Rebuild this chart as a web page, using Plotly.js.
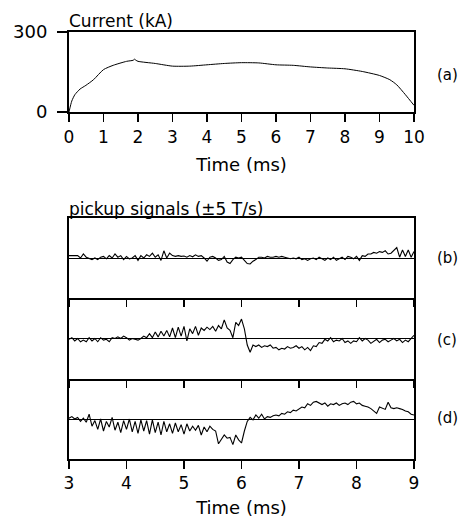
<!DOCTYPE html>
<html>
<head>
<meta charset="utf-8">
<script src="https://cdn.plot.ly/plotly-3.0.1.min.js"></script>
<style>html,body{margin:0;padding:0;background:#fff;}#chart{width:458px;height:518px;}</style>
</head>
<body>
<div id="chart"></div>
<script>
// ---- Data ----
const currentTime = [0, 0.08, 0.17, 0.32, 0.49, 0.71, 1.0, 1.28, 1.67, 1.86, 1.9, 1.94, 2.0, 2.5, 3.0, 3.5, 4.0, 4.5, 5.0, 5.5, 6.0, 6.5, 7.0, 7.5, 8.0, 8.5, 9.0, 9.3, 9.5, 9.75, 10.0];
const currentKA   = [0, 41, 65, 86, 100, 121, 159, 175, 190, 194, 198, 194, 190, 182, 172, 172, 177, 182, 185, 184, 177, 175, 169, 165, 162, 152, 137, 121, 102, 65, 25];

// pickup signals, sampled every 0.05 ms from 3.00 ms to 9.00 ms (T/s)
const signalStart = 3.0;
const signalStep = 0.05;
const pickupB = [
 0.3,0.3,0.25,0.3,0.0,0.5,0.1,-0.1,-0.2,0.0,
 -0.2,0.1,0.2,-0.1,0.3,0.0,0.5,0.1,0.3,-0.2,
 0.2,-0.1,0.0,0.3,-0.3,0.3,0.0,0.4,0.2,0.6,
 0.1,0.4,-0.3,0.9,0.0,0.6,0.3,0.2,0.3,0.2,
 0.25,0.1,0.3,0.15,0.4,0.2,0.3,0.0,-0.4,0.1,
 0.2,0.0,-0.3,-0.2,0.2,-0.5,-0.7,-0.2,0.1,0.0,
 0.1,-0.3,-0.7,-0.75,-0.4,-0.2,0.1,0.1,0.0,0.2,
 0.1,0.1,0.2,0.1,0.2,0.1,0.0,-0.1,0.0,-0.1,
 0.1,-0.2,-0.1,-0.3,-0.1,0.0,-0.2,0.1,-0.1,-0.3,
 0.0,-0.2,0.1,-0.3,-0.1,0.1,-0.2,0.2,0.1,-0.1,
 0.2,-0.3,0.3,0.2,0.5,0.5,0.7,0.6,0.8,0.7,
 0.9,0.5,0.6,1.0,1.3,0.1,1.0,0.2,1.0,0.1,
 0.8
];
const pickupC = [
 -0.1,0.1,-0.3,0.0,-0.4,-0.2,-0.4,0.1,-0.3,0.0,
 -0.4,0.1,-0.2,-0.1,-0.4,0.1,0.0,0.2,0.0,0.3,
 0.1,-0.2,0.0,-0.1,-0.2,0.0,0.3,0.1,0.6,0.1,
 0.8,0.2,0.9,0.3,1.0,0.2,1.3,0.1,1.4,0.3,
 1.5,-0.3,1.2,0.6,1.5,0.4,1.3,1.0,1.4,1.1,
 1.5,0.9,1.6,1.2,2.3,1.3,1.0,0.1,2.0,1.6,
 2.4,1.2,-0.8,-1.7,-0.8,-1.0,-0.8,-1.1,-0.9,-1.0,
 -0.8,-1.2,-1.1,-1.4,-1.2,-1.3,-1.0,-1.2,-1.1,-0.9,
 -1.2,-1.0,-1.4,-1.1,-1.5,-0.9,-1.0,-0.5,-0.6,-0.1,
 -0.3,0.1,-0.4,-0.2,-0.3,0.0,-0.5,-0.3,-0.6,-0.3,
 -0.4,0.1,-0.3,0.0,-0.2,-0.6,-0.3,-0.1,-0.5,-0.2,
 -0.1,-0.4,-0.2,0.0,-0.3,-0.1,-0.5,-0.2,-0.4,0.0,
 0.4
];
const pickupD = [
 0.1,0.3,0.0,0.2,-0.3,0.1,-0.4,0.6,-0.9,-0.2,
 -1.3,0.0,-1.5,-0.3,-1.0,0.2,-1.4,-0.4,-1.7,-0.2,
 -1.3,0.0,-1.6,-0.3,-1.8,-0.1,-1.5,-0.2,-1.9,-0.1,
 -1.7,-0.4,-2.0,-0.3,-1.6,-0.6,-1.8,-0.5,-1.6,-0.7,
 -1.9,-0.6,-1.5,-0.9,-1.4,-0.8,-2.0,-1.0,-1.6,-0.9,
 -1.3,-1.5,-3.1,-2.5,-2.0,-2.4,-2.3,-3.2,-2.0,-2.6,
 -3.0,-1.5,-0.3,0.2,-0.1,0.5,0.1,0.6,0.0,0.3,
 0.2,0.4,0.5,0.4,0.7,0.6,0.9,0.8,1.1,1.0,
 1.3,1.5,1.4,1.9,1.7,2.1,2.2,2.0,1.8,2.0,
 1.6,1.9,1.8,2.0,1.7,1.9,2.0,1.8,2.1,2.2,
 1.9,2.0,1.7,1.6,1.5,1.3,1.0,0.7,1.5,1.3,
 1.2,2.1,1.4,1.3,1.4,1.3,1.2,1.0,0.9,0.6,
 0.5
];
const topTicks = [0,1,2,3,4,5,6,7,8,9,10];
const bottomTicks = [3,4,5,6,7,8,9];
const panelLabels = ['(a)','(b)','(c)','(d)'];

// ---- Layout ----
const W = 458, H = 518;
const FONT = 'DejaVu Sans, sans-serif';
const px = v => v / W;
const py = v => 1 - v / H;
const xDom = [px(69), px(414)];

const line = {color:'black', width:1.1};
const traces = [
  {x: currentTime, y: currentKA, type:'scatter', mode:'lines', line:{color:'black', width:1, shape:'spline', smoothing:0.6}, xaxis:'x', yaxis:'y', hoverinfo:'skip'},
  {x0: signalStart, dx: signalStep, y: pickupB, type:'scatter', mode:'lines', line: line, xaxis:'x2', yaxis:'y2'},
  {x0: signalStart, dx: signalStep, y: pickupC, type:'scatter', mode:'lines', line: line, xaxis:'x3', yaxis:'y3'},
  {x0: signalStart, dx: signalStep, y: pickupD, type:'scatter', mode:'lines', line: line, xaxis:'x4', yaxis:'y4'}
];

const baseX = {
  showline:true, mirror:true, linecolor:'black', linewidth:2,
  showgrid:false, zeroline:false, ticks:'outside', ticklen:8, tickwidth:1.5, tickcolor:'black',
  ticklabelstandoff:1,
  tickfont:{family:FONT, size:17, color:'black'}
};
const baseSig = {
  showline:true, mirror:true, linecolor:'black', linewidth:2,
  showgrid:false, zeroline:true, zerolinecolor:'black', zerolinewidth:1,
  range:[-5,5], showticklabels:false, ticks:''
};
const labelFont = {family:FONT, size:15, color:'black'};

const layout = {
  width: W, height: H,
  margin:{l:0, r:0, t:0, b:0},
  paper_bgcolor:'white', plot_bgcolor:'white',
  showlegend:false,
  font:{family:FONT, color:'black'},
  xaxis: Object.assign({}, baseX, {domain:xDom, anchor:'y', range:[0,10], tickvals: topTicks,
    title:{text:'Time (ms)', font:{family:FONT, size:18, color:'black'}, standoff:12}}),
  yaxis: {domain:[py(112), py(32)], anchor:'x', range:[0,300], tickvals:[0,300],
    showline:true, mirror:true, linecolor:'black', linewidth:2, showgrid:false, zeroline:false,
    ticks:'outside', ticklen:10, tickwidth:1.5, tickcolor:'black', ticklabelstandoff:6,
    tickfont:{family:FONT, size:18, color:'black'}},
  xaxis2: Object.assign({}, baseX, {domain:xDom, anchor:'y2', range:[3,9], tickvals: bottomTicks, showticklabels:false, ticklen:7}),
  yaxis2: Object.assign({}, baseSig, {domain:[py(298), py(218)], anchor:'x2'}),
  xaxis3: Object.assign({}, baseX, {domain:xDom, anchor:'y3', range:[3,9], tickvals: bottomTicks, showticklabels:false, ticklen:7, mirror:false}),
  yaxis3: Object.assign({}, baseSig, {domain:[py(379), py(298)], anchor:'x3'}),
  xaxis4: Object.assign({}, baseX, {domain:xDom, anchor:'y4', range:[3,9], tickvals: bottomTicks, mirror:false, ticklabelstandoff:0,
    title:{text:'Time (ms)', font:{family:FONT, size:18, color:'black'}, standoff:9}}),
  yaxis4: Object.assign({}, baseSig, {domain:[py(459), py(379)], anchor:'x4'}),
  annotations: [
    {text:'Current (kA)', xref:'paper', yref:'paper', x:px(67), y:py(21), xanchor:'left', yanchor:'middle', showarrow:false, font:{family:FONT, size:17, color:'black'}},
    {text:'pickup signals (±5 T/s)', xref:'paper', yref:'paper', x:px(67), y:py(209), xanchor:'left', yanchor:'middle', showarrow:false, font:{family:FONT, size:17, color:'black'}},
    {text:panelLabels[0], xref:'paper', yref:'paper', x:px(435), y:py(75), xanchor:'left', yanchor:'middle', showarrow:false, font:labelFont},
    {text:panelLabels[1], xref:'paper', yref:'paper', x:px(435), y:py(258), xanchor:'left', yanchor:'middle', showarrow:false, font:labelFont},
    {text:panelLabels[2], xref:'paper', yref:'paper', x:px(435), y:py(340), xanchor:'left', yanchor:'middle', showarrow:false, font:labelFont},
    {text:panelLabels[3], xref:'paper', yref:'paper', x:px(435), y:py(418), xanchor:'left', yanchor:'middle', showarrow:false, font:labelFont}
  ]
};

Plotly.newPlot('chart', traces, layout, {staticPlot:true, displayModeBar:false});
</script>
</body>
</html>
